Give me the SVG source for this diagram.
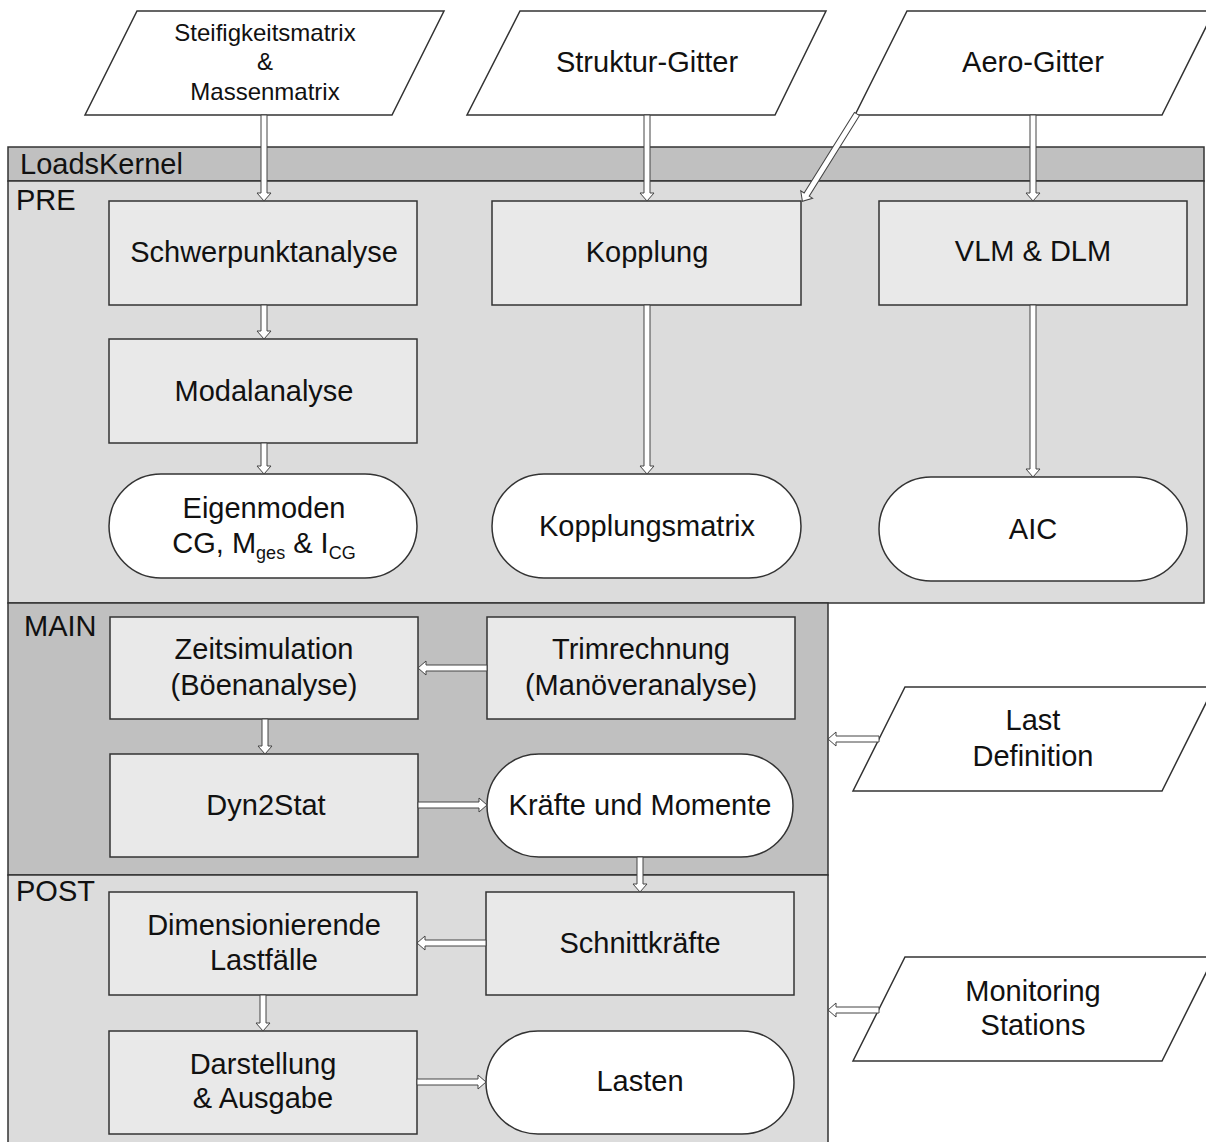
<svg xmlns="http://www.w3.org/2000/svg" width="1206" height="1142" viewBox="0 0 1206 1142">
<style>
.reg{stroke:#333;stroke-width:1.5}
.box{fill:#e9e9e9;stroke:#333;stroke-width:1.5}
.term{fill:#fff;stroke:#333;stroke-width:1.5}
.io{fill:#fff;stroke:#333;stroke-width:1.5}
.arr{fill:#fff;stroke:#444;stroke-width:1}
text{font-family:"Liberation Sans",Arial,sans-serif;fill:#111}
.t{font-size:29px;text-anchor:middle}
.ts{font-size:24px;text-anchor:middle}
.lbl{font-size:29px}
</style>
<rect width="1206" height="1142" fill="#fff"/>
<g id="regions">
<rect class="reg" x="8" y="147" width="1196" height="34" fill="#c0c0c0"/>
<rect class="reg" x="8" y="181" width="1196" height="422" fill="#dcdcdc"/>
<rect class="reg" x="8" y="603" width="820" height="272" fill="#c0c0c0"/>
<rect class="reg" x="8" y="875" width="820" height="275" fill="#dcdcdc"/>
<text class="lbl" x="20" y="174">LoadsKernel</text>
<text class="lbl" x="16" y="210">PRE</text>
<text class="lbl" x="24" y="636">MAIN</text>
<text class="lbl" x="16" y="901">POST</text>
</g>
<g id="n-steif">
<polygon class="io" points="137,11 444,11 392,115 85,115"/>
<text class="ts" x="265" y="41">Steifigkeitsmatrix</text>
<text class="ts" x="265" y="70">&amp;</text>
<text class="ts" x="265" y="100">Massenmatrix</text>
</g>
<g id="n-struktur">
<polygon class="io" points="520,11 826,11 775,115 467,115"/>
<text class="t" x="647" y="72">Struktur-Gitter</text>
</g>
<g id="n-aero">
<polygon class="io" points="907,11 1214,11 1162,115 855,115"/>
<text class="t" x="1033" y="72">Aero-Gitter</text>
</g>
<g id="n-schwer">
<rect class="box" x="109" y="201" width="308" height="104"/>
<text class="t" x="264" y="262">Schwerpunktanalyse</text>
</g>
<g id="n-modal">
<rect class="box" x="109" y="339" width="308" height="104"/>
<text class="t" x="264" y="401">Modalanalyse</text>
</g>
<g id="n-eigen">
<rect class="term" x="109" y="474" width="308" height="104" rx="52" ry="52"/>
<text class="t" x="264" y="518">Eigenmoden</text>
<text class="t" x="264" y="553">CG, M<tspan font-size="18" dy="6">ges</tspan><tspan dy="-6"> &amp; I</tspan><tspan font-size="18" dy="6">CG</tspan></text>
</g>
<g id="n-kopplung">
<rect class="box" x="492" y="201" width="309" height="104"/>
<text class="t" x="647" y="262">Kopplung</text>
</g>
<g id="n-kmatrix">
<rect class="term" x="492" y="474" width="309" height="104" rx="52" ry="52"/>
<text class="t" x="647" y="536">Kopplungsmatrix</text>
</g>
<g id="n-vlm">
<rect class="box" x="879" y="201" width="308" height="104"/>
<text class="t" x="1033" y="261">VLM &amp; DLM</text>
</g>
<g id="n-aic">
<rect class="term" x="879" y="477" width="308" height="104" rx="52" ry="52"/>
<text class="t" x="1033" y="539">AIC</text>
</g>
<g id="n-zeit">
<rect class="box" x="110" y="617" width="308" height="102"/>
<text class="t" x="264" y="659">Zeitsimulation</text>
<text class="t" x="264" y="695">(Böenanalyse)</text>
</g>
<g id="n-trim">
<rect class="box" x="487" y="617" width="308" height="102"/>
<text class="t" x="641" y="659">Trimrechnung</text>
<text class="t" x="641" y="695">(Manöveranalyse)</text>
</g>
<g id="n-dyn">
<rect class="box" x="110" y="754" width="308" height="103"/>
<text class="t" x="266" y="815">Dyn2Stat</text>
</g>
<g id="n-kraefte">
<rect class="term" x="487" y="754" width="306" height="103" rx="52" ry="52"/>
<text class="t" x="640" y="815">Kräfte und Momente</text>
</g>
<g id="n-dim">
<rect class="box" x="109" y="892" width="308" height="103"/>
<text class="t" x="264" y="935">Dimensionierende</text>
<text class="t" x="264" y="970">Lastfälle</text>
</g>
<g id="n-schnitt">
<rect class="box" x="486" y="892" width="308" height="103"/>
<text class="t" x="640" y="953">Schnittkräfte</text>
</g>
<g id="n-darst">
<rect class="box" x="109" y="1031" width="308" height="103"/>
<text class="t" x="263" y="1074">Darstellung</text>
<text class="t" x="263" y="1108">&amp; Ausgabe</text>
</g>
<g id="n-lasten">
<rect class="term" x="486" y="1031" width="308" height="103" rx="52" ry="52"/>
<text class="t" x="640" y="1091">Lasten</text>
</g>
<g id="n-lastdef">
<polygon class="io" points="905,687 1214,687 1162,791 853,791"/>
<text class="t" x="1033" y="730">Last</text>
<text class="t" x="1033" y="766">Definition</text>
</g>
<g id="n-monitor">
<polygon class="io" points="905,957 1214,957 1162,1061 853,1061"/>
<text class="t" x="1033" y="1001">Monitoring</text>
<text class="t" x="1033" y="1035">Stations</text>
</g>
<g id="connectors">
<polygon class="arr" points="261,115 267,115 267,193 271,193 264,201 257,193 261,193"/>
<polygon class="arr" points="644,115 650,115 650,193 654,193 647,201 640,193 644,193"/>
<polygon class="arr" points="1030,115 1036,115 1036,193 1040,193 1033,201 1026,193 1030,193"/>
<polygon class="arr" transform="translate(857,114) rotate(122)" points="0,-3 95,-3 95,-7 103,0 95,7 95,3 0,3"/>
<polygon class="arr" points="261,305 267,305 267,331 271,331 264,339 257,331 261,331"/>
<polygon class="arr" points="261,443 267,443 267,466 271,466 264,474 257,466 261,466"/>
<polygon class="arr" points="644,305 650,305 650,466 654,466 647,474 640,466 644,466"/>
<polygon class="arr" points="1030,305 1036,305 1036,469 1040,469 1033,477 1026,469 1030,469"/>
<polygon class="arr" points="487,665 487,671 426,671 426,675 418,668 426,661 426,665"/>
<polygon class="arr" points="262,719 268,719 268,746 272,746 265,754 258,746 262,746"/>
<polygon class="arr" points="418,802 479,802 479,798 487,805 479,812 479,808 418,808"/>
<polygon class="arr" points="637,857 643,857 643,884 647,884 640,892 633,884 637,884"/>
<polygon class="arr" points="486,940 486,946 425,946 425,950 417,943 425,936 425,940"/>
<polygon class="arr" points="260,995 266,995 266,1023 270,1023 263,1031 256,1023 260,1023"/>
<polygon class="arr" points="417,1079 478,1079 478,1075 486,1082 478,1089 478,1085 417,1085"/>
<polygon class="arr" points="879,736 879,742 836,742 836,746 828,739 836,732 836,736"/>
<polygon class="arr" points="879,1007 879,1013 836,1013 836,1017 828,1010 836,1003 836,1007"/>
</g>
</svg>
